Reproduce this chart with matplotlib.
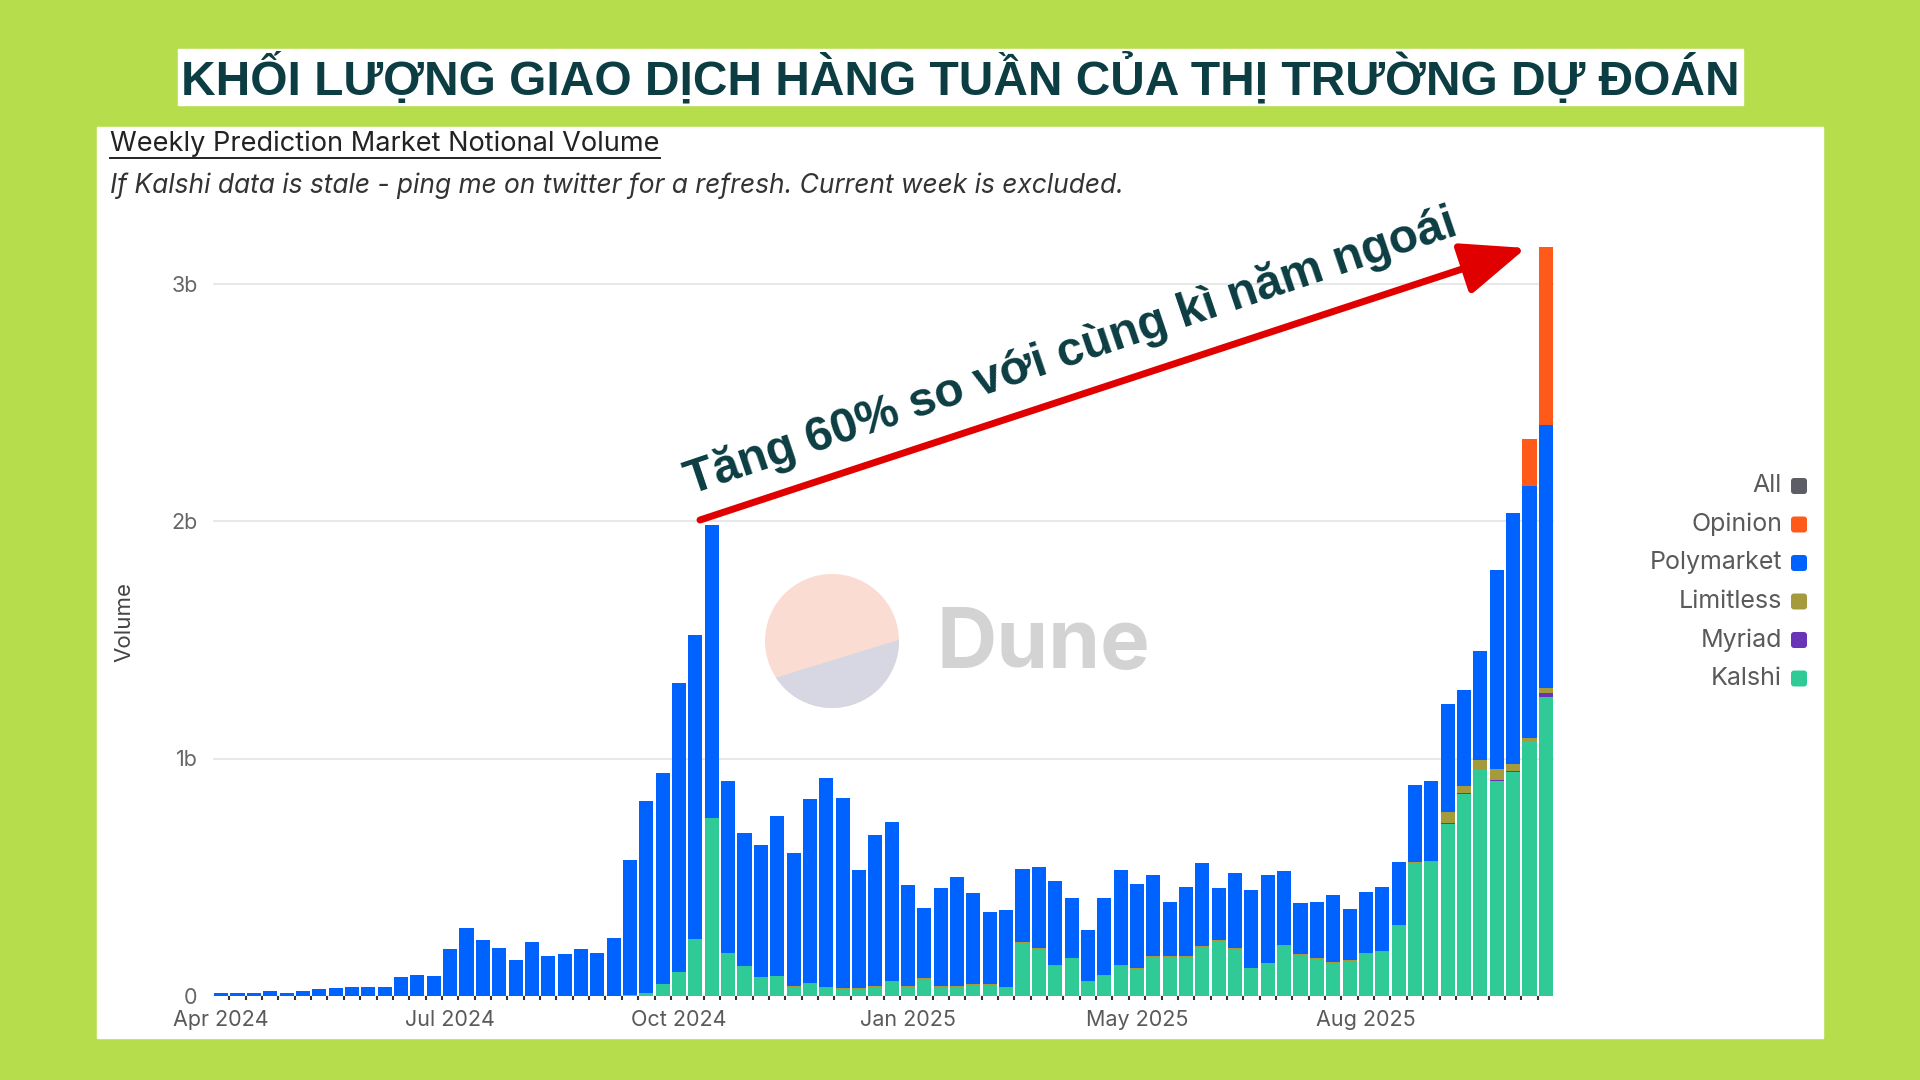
import numpy as np
import matplotlib
matplotlib.use("Agg")
import matplotlib.pyplot as plt
from matplotlib.patches import Rectangle, Circle, Polygon, FancyBboxPatch

# weekly volume in billions, one value per week from Apr 2024
kalshi = [0]*25 + [
    0.005, 0.012, 0.05, 0.10, 0.24, 0.75, 0.18, 0.128, 0.078, 0.083,
    0.04, 0.05, 0.033, 0.03, 0.03, 0.04, 0.06, 0.04, 0.07, 0.04,
    0.04, 0.045, 0.045, 0.035, 0.225, 0.20, 0.125, 0.158, 0.06, 0.084,
    0.126, 0.112, 0.165, 0.165, 0.165, 0.205, 0.231, 0.20, 0.116, 0.137,
    0.21, 0.171, 0.154, 0.14, 0.149, 0.177, 0.185, 0.295, 0.56, 0.563,
    0.724, 0.85, 0.954, 0.905, 0.943, 1.075, 1.258]
myriad = [0]*75 + [0.003, 0.003, 0.003, 0.005, 0.005, 0.0, 0.019]
limitless = [0]*35 + [0.004]*40 + [0.048, 0.033, 0.035, 0.045, 0.03, 0.011, 0.018]
polymarket = [
    0.011, 0.011, 0.011, 0.021, 0.011, 0.020, 0.030, 0.032, 0.036, 0.040,
    0.040, 0.080, 0.090, 0.084, 0.198, 0.288, 0.237, 0.204, 0.153, 0.226,
    0.167, 0.177, 0.198, 0.180, 0.244, 0.569, 0.808, 0.89, 1.22, 1.28,
    1.235, 0.727, 0.559, 0.557, 0.677, 0.56, 0.774, 0.883, 0.80, 0.496,
    0.632, 0.67, 0.425, 0.295, 0.41, 0.455, 0.385, 0.305, 0.325, 0.305,
    0.34, 0.355, 0.252, 0.213, 0.326, 0.40, 0.355, 0.341, 0.225, 0.288,
    0.35, 0.218, 0.315, 0.327, 0.369, 0.312, 0.217, 0.239, 0.28, 0.213,
    0.255, 0.269, 0.265, 0.324, 0.337, 0.455, 0.403, 0.462, 0.837, 1.054,
    1.062, 1.108]
opinion = [0]*80 + [0.198, 0.749]

tick_weeks = [0, 14, 28, 42, 56, 70]
tick_labels = ["Apr 2024", "Jul 2024", "Oct 2024", "Jan 2025", "May 2025", "Aug 2025"]

legend_names = ["All", "Opinion", "Polymarket", "Limitless", "Myriad", "Kalshi"]
colors = {"All": "#5d5d66", "Opinion": "#ff5a1a", "Polymarket": "#0062ff",
          "Limitless": "#a39b3c", "Myriad": "#6a34b8", "Kalshi": "#2fca95"}

GREEN = "#b6de4c"
TEAL = "#0b3d42"
VI = ["Liberation Sans", "DejaVu Sans"]
UI = ["Inter", "Liberation Sans", "DejaVu Sans"]

fig = plt.figure(figsize=(19.2, 10.8), dpi=100, facecolor=GREEN)
renderer = fig.canvas.get_renderer()


def fit_width(t, target):
    w = t.get_window_extent(renderer=renderer).width
    t.set_fontsize(t.get_fontsize() * target / w)


# background layer in pixel coordinates
bg = fig.add_axes([0, 0, 1, 1], zorder=0)
bg.set_xlim(0, 1920)
bg.set_ylim(1080, 0)
bg.axis("off")
bg.add_patch(Rectangle((97, 127), 1726, 911, color="white"))
bg.add_patch(Rectangle((178, 49), 1565, 56, color="white"))

title = bg.text(960, 78, "KHỐI LƯỢNG GIAO DỊCH HÀNG TUẦN CỦA THỊ TRƯỜNG DỰ ĐOÁN",
                ha="center", va="center", color=TEAL, fontweight="bold",
                family=VI, fontsize=30)
fit_width(title, 1555)

sub = bg.text(110, 144, "Weekly Prediction Market Notional Volume", ha="left",
              va="center", color="#222222", family=UI, fontsize=16)
fit_width(sub, 550)
bg.plot([110, 660], [158, 158], color="#222222", lw=1.4)

note = bg.text(110, 186, "If Kalshi data is stale - ping me on twitter for a refresh. "
               "Current week is excluded.", ha="left", va="center",
               color="#333333", style="italic", family=UI, fontsize=16)
fit_width(note, 1014)

bg.text(124, 622, "Volume", rotation=90, ha="center", va="center",
        color="#444444", family=UI, fontsize=16)

# Dune watermark
circ = Circle((832, 641), 67, color="#fbdcd3", lw=0)
bg.add_patch(circ)
low = Polygon([(700, 701), (960, 621), (960, 760), (700, 760)], color="#d6d7e3", lw=0)
bg.add_patch(low)
low.set_clip_path(circ)
dune = bg.text(937, 646, "Dune", ha="left", va="center", color="#d3d3d3",
               fontweight="bold", family=UI, fontsize=50)
fit_width(dune, 214)

# chart
ax = fig.add_axes([213 / 1920, 1 - 996 / 1080, 1341 / 1920, 760 / 1080], zorder=1)
ax.patch.set_alpha(0)
x = np.arange(len(polymarket))
stack = [("Kalshi", kalshi), ("Myriad", myriad), ("Limitless", limitless),
         ("Polymarket", polymarket), ("Opinion", opinion)]
bottom = np.zeros(len(x))
for name, vals in stack:
    vals = np.array(vals)
    ax.bar(x, vals, bottom=bottom, width=0.86, color=colors[name], lw=0, zorder=2)
    bottom += vals

ax.set_xlim(-0.5, len(x) - 0.5)
ax.set_ylim(0, 3.2)
ax.set_yticks([0, 1, 2, 3])
ax.set_yticklabels(["0", "1b", "2b", "3b"])
ax.grid(axis="y", color="#e6e6e6", lw=1.3, zorder=0)
ax.set_xticks(tick_weeks)
ax.set_xticklabels(tick_labels)
ax.set_xticks(x[:-1] + 0.5, minor=True)
ax.tick_params(axis="x", which="major", length=0, pad=10, labelsize=15.5, labelcolor="#5a5a5a")
ax.tick_params(axis="x", which="minor", length=3, width=1.5, color="#333333")
ax.tick_params(axis="y", length=0, pad=11, labelsize=15.5, labelcolor="#666666")
for lab in ax.get_xticklabels() + ax.get_yticklabels():
    lab.set_family(UI)
for s in ax.spines.values():
    s.set_visible(False)

# overlay: legend, arrow and annotation
ov = fig.add_axes([0, 0, 1, 1], zorder=2)
ov.set_xlim(0, 1920)
ov.set_ylim(1080, 0)
ov.axis("off")
ov.patch.set_alpha(0)

for i, name in enumerate(legend_names):
    y = 486 + i * 38.5
    ov.text(1782, y, name, ha="right", va="center", color="#5a5a5a",
            family=UI, fontsize=18)
    ov.add_patch(FancyBboxPatch((1791, y - 8), 16, 16,
                                boxstyle="round,pad=0,rounding_size=3",
                                color=colors[name], lw=0))

ov.annotate("", xy=(1526, 248), xytext=(700, 520),
            arrowprops=dict(arrowstyle="-|>,head_length=1.6,head_width=0.65",
                            color="#e00000", lw=5, mutation_scale=25,
                            shrinkA=0, shrinkB=0))

ann = ov.text(1075, 364, "Tăng 60% so với cùng kì năm ngoái", ha="center",
              va="baseline", color=TEAL, fontweight="bold", family=VI,
              fontsize=34, rotation_mode="anchor")
fit_width(ann, 812)
ann.set_rotation(18.7)

fig.savefig("out.png", dpi=100, facecolor=GREEN)
